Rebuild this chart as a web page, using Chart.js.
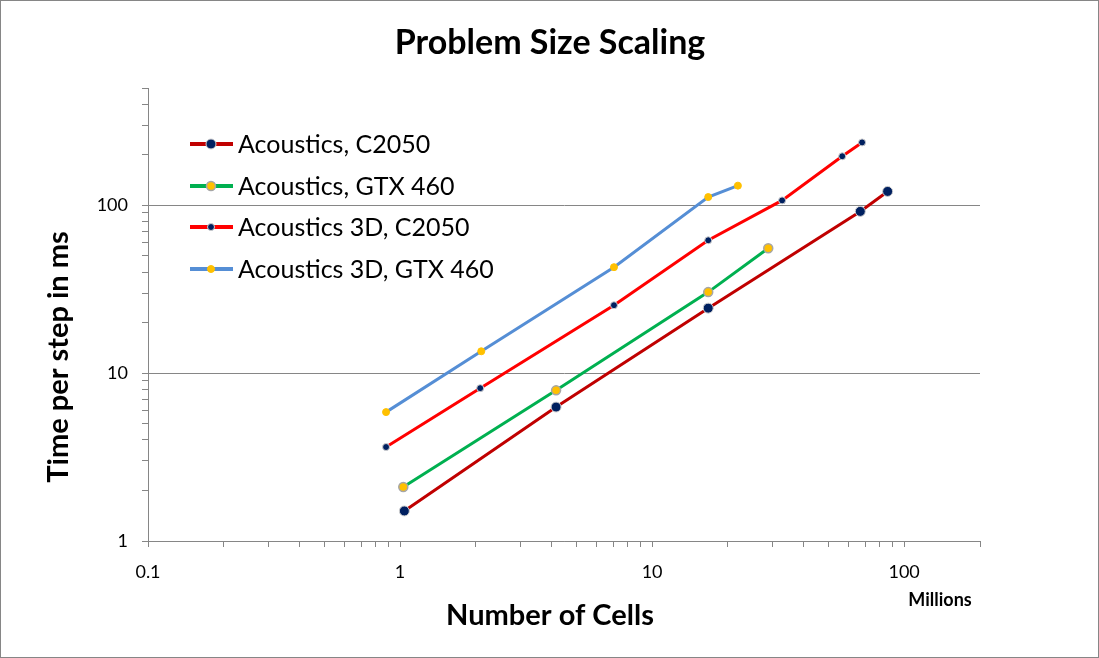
<!DOCTYPE html>
<html>
<head>
<meta charset="utf-8">
<script src="https://cdn.jsdelivr.net/npm/chart.js@4"></script>
<style>
  body { margin: 0; background: #fff; }
  canvas { display: block; }
</style>
</head>
<body>
<canvas id="chart" width="1099" height="658"></canvas>
<script>
"use strict";

// values (x in millions of cells, y in ms)
const seriesNames = ["Acoustics, C2050", "Acoustics, GTX 460", "Acoustics 3D, C2050", "Acoustics 3D, GTX 460"];
const c2050Cells = [1.04, 4.16, 16.7, 67, 86];
const c2050Time = [1.51, 6.28, 24.4, 92, 121];
const gtxCells = [1.03, 4.16, 16.7, 28.9];
const gtxTime = [2.1, 7.9, 30.4, 55.5];
const c2050x3dCells = [0.88, 2.08, 7.06, 16.7, 32.8, 56.8, 68.1];
const c2050x3dTime = [3.63, 8.14, 25.4, 61.9, 107, 196, 237];
const gtx3dCells = [0.88, 2.1, 7.06, 16.7, 21.9];
const gtx3dTime = [5.86, 13.5, 42.8, 112, 131];

const xTicks = [0.1, 0.2, 0.3, 0.4, 0.5, 0.6, 0.7, 0.8, 0.9, 1, 2, 3, 4, 5, 6, 7, 8, 9,
                10, 20, 30, 40, 50, 60, 70, 80, 90, 100, 200];
const yTicks = [1, 2, 3, 4, 5, 6, 7, 8, 9, 10, 20, 30, 40, 50, 60, 70, 80, 90, 100, 200, 300, 400, 500];
const majorLabels = { 0.1: "0.1", 1: "1", 10: "10", 100: "100" };

const chartTitle = "Problem Size Scaling";
const xTitle = "Number of Cells";
const yTitle = "Time per step in ms";
const xUnit = "Millions";

const FONT = "Lato, 'Open Sans', sans-serif";
const GRID = "#868686";

function points(xs, ys) {
    return xs.map((x, i) => ({ x: x, y: ys[i] }));
}

function series(label, xs, ys, line, fill, border, radius, bw) {
    return {
        label: label,
        data: points(xs, ys),
        borderColor: line,
        borderWidth: 3,
        pointBackgroundColor: fill,
        pointBorderColor: border,
        pointBorderWidth: bw,
        pointRadius: radius,
        pointHoverRadius: radius,
        tension: 0,
        fill: false
    };
}

const datasets = [
    series(seriesNames[0], c2050Cells, c2050Time, "#C00000", "#002060", "#d0d0d0", 5, 1),
    series(seriesNames[1], gtxCells, gtxTime, "#00B050", "#FFC000", "#a6a6a6", 4.5, 1.5),
    series(seriesNames[2], c2050x3dCells, c2050x3dTime, "#FF0000", "#002060", "#d0d0d0", 3.5, 1),
    series(seriesNames[3], gtx3dCells, gtx3dTime, "#558ED5", "#FFC000", "#FFC000", 3.5, 1)
];

const extras = {
    id: "extras",
    afterDraw(chart) {
        const ctx = chart.ctx;
        ctx.save();
        // outer frame
        ctx.strokeStyle = GRID;
        ctx.lineWidth = 1;
        ctx.strokeRect(0.5, 0.5, chart.width - 1, chart.height - 1);

        // legend inside the plot
        const rows = [144, 186, 227, 269];
        ctx.font = "25px " + FONT;
        ctx.textBaseline = "middle";
        ctx.textAlign = "left";
        chart.data.datasets.forEach((ds, i) => {
            const y = rows[i];
            ctx.strokeStyle = ds.borderColor;
            ctx.lineWidth = 4;
            ctx.beginPath();
            ctx.moveTo(190, y);
            ctx.lineTo(233, y);
            ctx.stroke();
            ctx.beginPath();
            ctx.arc(211, y, ds.pointRadius, 0, Math.PI * 2);
            ctx.fillStyle = ds.pointBackgroundColor;
            ctx.fill();
            ctx.lineWidth = ds.pointBorderWidth;
            ctx.strokeStyle = ds.pointBorderColor;
            ctx.stroke();
            ctx.fillStyle = "#000";
            ctx.fillText(ds.label, 238, y + 1);
        });

        // titles
        ctx.textAlign = "center";
        ctx.font = "bold 34px " + FONT;
        ctx.fillText(chartTitle, 550, 43);
        ctx.font = "bold 29px " + FONT;
        ctx.fillText(xTitle, 550, 616);
        ctx.save();
        ctx.translate(59, 357);
        ctx.rotate(-Math.PI / 2);
        ctx.fillText(yTitle, 0, 0);
        ctx.restore();

        // unit label
        ctx.font = "bold 18px " + FONT;
        ctx.fillText(xUnit, 940, 600);
        ctx.restore();
    }
};

new Chart(document.getElementById("chart").getContext("2d"), {
    type: "line",
    data: { datasets: datasets },
    options: {
        responsive: false,
        animation: false,
        devicePixelRatio: 1,
        layout: { padding: { left: 0, right: 119, top: 88, bottom: 0 } },
        plugins: {
            legend: { display: false },
            tooltip: { enabled: false }
        },
        scales: {
            x: {
                type: "logarithmic",
                min: 0.1,
                max: 200,
                afterBuildTicks: s => { s.ticks = xTicks.map(v => ({ value: v })); },
                afterFit: s => { s.height = 117; },
                border: { display: true, color: GRID, width: 1 },
                grid: { drawOnChartArea: false, tickLength: 6, tickColor: GRID },
                ticks: {
                    autoSkip: false,
                    maxRotation: 0,
                    padding: 14,
                    color: "#000",
                    font: { family: FONT, size: 18 },
                    callback: v => majorLabels[v] || ""
                }
            },
            y: {
                type: "logarithmic",
                min: 1,
                max: 500,
                afterBuildTicks: s => { s.ticks = yTicks.map(v => ({ value: v })); },
                afterFit: s => { s.width = 148; },
                border: { display: true, color: GRID, width: 1 },
                grid: {
                    tickLength: 6,
                    tickColor: GRID,
                    color: c => (c.tick && majorLabels[c.tick.value]) ? GRID : "rgba(0,0,0,0)"
                },
                ticks: {
                    autoSkip: false,
                    padding: 14,
                    color: "#000",
                    font: { family: FONT, size: 18 },
                    callback: v => majorLabels[v] || ""
                }
            }
        }
    },
    plugins: [extras]
});
</script>
</body>
</html>
